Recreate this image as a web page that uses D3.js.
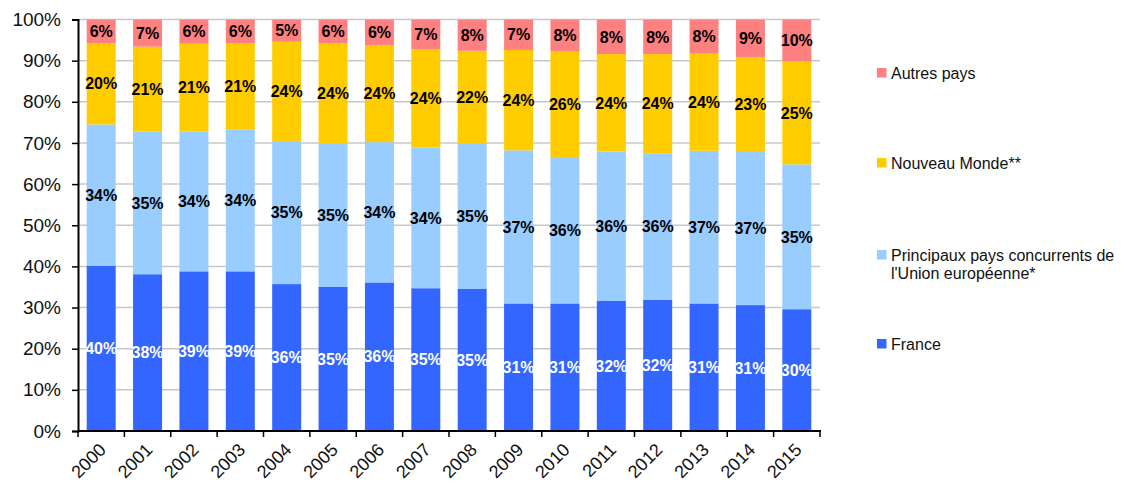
<!DOCTYPE html>
<html>
<head>
<meta charset="utf-8">
<script src="https://cdn.jsdelivr.net/npm/d3@7"></script>
<style>
  html, body { margin: 0; padding: 0; background: #fff; }
  svg { display: block; font-family: "Liberation Sans", Arial, sans-serif; }
</style>
</head>
<body>
<svg id="chart" width="1125" height="485"></svg>
<script>
const years = ["2000","2001","2002","2003","2004","2005","2006","2007","2008","2009","2010","2011","2012","2013","2014","2015"];
const france    = [40.2, 38.1, 38.8, 38.8, 35.7, 35.0, 36.1, 34.7, 34.6, 31.0, 31.0, 31.6, 31.9, 31.0, 30.6, 29.6];
const principaux= [34.3, 34.7, 34.0, 34.4, 34.8, 34.9, 34.1, 34.2, 35.4, 37.2, 35.6, 36.3, 35.6, 37.1, 37.2, 35.2];
const nouveau   = [19.8, 20.6, 21.3, 21.0, 24.1, 24.3, 23.6, 23.9, 22.4, 24.4, 25.6, 23.7, 24.1, 23.6, 23.0, 25.0];
const autres    = [ 5.7,  6.6,  5.9,  5.8,  5.4,  5.8,  6.2,  7.2,  7.6,  7.4,  7.8,  8.4,  8.4,  8.3,  9.2, 10.2];
const yTicks = [0, 0.1, 0.2, 0.3, 0.4, 0.5, 0.6, 0.7, 0.8, 0.9, 1.0];

const seriesDefs = [
  { key: "france", name: "France", values: france, color: "#3366FF", labelColor: "#ffffff" },
  { key: "principaux", name: ["Principaux pays concurrents de", "l'Union européenne*"], values: principaux, color: "#99CCFF", labelColor: "#000000" },
  { key: "nouveau", name: "Nouveau Monde**", values: nouveau, color: "#FFCC00", labelColor: "#000000" },
  { key: "autres", name: "Autres pays", values: autres, color: "#FF8080", labelColor: "#000000" }
];

const table = years.map((yr, i) => {
  const row = { year: yr };
  seriesDefs.forEach(s => row[s.key] = s.values[i] / 100);
  return row;
});

const svg = d3.select("#chart");
const m = { left: 78, right: 820, top: 19.5, bottom: 431 };

const x = d3.scaleBand().domain(years).range([m.left, m.right]).paddingInner(0.375).paddingOuter(0.1875);
const xEdge = d3.scaleBand().domain(years).range([m.left, m.right]).padding(0);
const y = d3.scaleLinear().domain([0, 1]).range([m.bottom, m.top]);

// gridlines
svg.append("g").selectAll("line").data(yTicks.filter(d => d > 0)).join("line")
  .attr("x1", m.left).attr("x2", m.right)
  .attr("y1", d => y(d)).attr("y2", d => y(d))
  .attr("stroke", "#c8c8c8").attr("stroke-width", 1.5);

const stack = d3.stack().keys(seriesDefs.map(s => s.key));
const stacked = stack(table);

const groups = svg.append("g").selectAll("g").data(stacked).join("g")
  .attr("fill", (d, i) => seriesDefs[i].color);
groups.selectAll("rect").data(d => d).join("rect")
  .attr("x", d => x(d.data.year))
  .attr("width", x.bandwidth())
  .attr("y", d => y(d[1]))
  .attr("height", d => y(d[0]) - y(d[1]));

// labels
stacked.forEach((layer, i) => {
  svg.append("g").selectAll("text").data(layer).join("text")
    .attr("x", d => x(d.data.year) + x.bandwidth() / 2)
    .attr("y", d => (y(d[0]) + y(d[1])) / 2)
    .attr("dy", "0.36em")
    .attr("text-anchor", "middle")
    .attr("font-size", 16)
    .attr("font-weight", "bold")
    .attr("fill", seriesDefs[i].labelColor)
    .text(d => Math.round(+((d[1] - d[0]) * 100).toFixed(3)) + "%");
});

// y axis
const yAxis = svg.append("g").attr("transform", `translate(${m.left},0)`)
  .call(d3.axisLeft(y).tickValues(yTicks).tickFormat(d3.format(".0%")).tickSize(6).tickPadding(11));
yAxis.select(".domain").attr("stroke", "#000").attr("stroke-width", 2);
yAxis.selectAll(".tick line").attr("stroke", "#000").attr("stroke-width", 1.5);
yAxis.selectAll("text").attr("font-size", 19).attr("fill", "#111").attr("font-family", "Liberation Sans, Arial, sans-serif");

// x axis
const xAxis = svg.append("g").attr("transform", `translate(0,${m.bottom})`);
xAxis.append("line").attr("x1", m.left).attr("x2", m.right + 1).attr("y1", 0).attr("y2", 0)
  .attr("stroke", "#000").attr("stroke-width", 2);
const edges = years.map(d => xEdge(d)).concat([xEdge(years[years.length - 1]) + xEdge.bandwidth()]);
xAxis.selectAll("line.tk").data(edges).join("line").attr("class", "tk")
  .attr("x1", d => d).attr("x2", d => d).attr("y1", 0).attr("y2", 6)
  .attr("stroke", "#000").attr("stroke-width", 1.5);
xAxis.selectAll("text").data(years).join("text")
  .attr("transform", d => `translate(${x(d) + x.bandwidth() / 2 - 3},${11}) rotate(-45)`)
  .attr("text-anchor", "end")
  .attr("dy", "0.7em")
  .attr("font-size", 18)
  .attr("fill", "#111")
  .text(d => d);

// legend
const legendItems = [seriesDefs[3], seriesDefs[2], seriesDefs[1], seriesDefs[0]];
const legendY = [73, 163, 255, 344];
const lg = svg.append("g");
legendItems.forEach((s, i) => {
  const g = lg.append("g").attr("transform", `translate(877,${legendY[i]})`);
  g.append("rect").attr("x", 0).attr("y", -5).attr("width", 9.5).attr("height", 9.5).attr("fill", s.color);
  const lines = Array.isArray(s.name) ? s.name : [s.name];
  const t = g.append("text").attr("x", 14).attr("y", 0)
    .attr("font-size", 16).attr("fill", "#111");
  lines.forEach((ln, j) => {
    t.append("tspan").attr("x", 14).attr("dy", j === 0 ? "0.36em" : "18px").text(ln);
  });
});
</script>
</body>
</html>
